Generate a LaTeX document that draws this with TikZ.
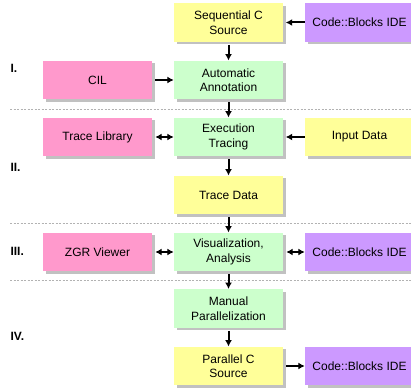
\documentclass[tikz,border=0pt]{standalone}
\usepackage{fontspec}
\setmainfont{Liberation Sans}
\usetikzlibrary{shadows,arrows.meta}
\definecolor{cyellow}{HTML}{FFFF99}
\definecolor{cgreen}{HTML}{CCFFCC}
\definecolor{cpink}{HTML}{FF99CC}
\definecolor{cpurple}{HTML}{CC99FF}
\begin{document}
\begin{tikzpicture}[x=1pt,y=-1pt,
  box/.style={minimum width=109pt,minimum height=38.5pt,inner sep=0pt,align=center,
    font=\fontsize{12}{14.5}\selectfont,
    drop shadow={shadow xshift=2.5pt,shadow yshift=-2.5pt,opacity=0.4,fill=black!60}},
  ybox/.style={box,fill=cyellow},
  gbox/.style={box,fill=cgreen},
  pbox/.style={box,fill=cpink},
  vbox/.style={box,fill=cpurple},
  arr/.style={line width=2pt,-{Latex[length=6.5pt,width=7pt]}},
  darr/.style={line width=2pt,{Latex[length=6.5pt,width=7pt]}-{Latex[length=6.5pt,width=7pt]}},
  sep/.style={gray!60,line width=0.5pt,dash pattern=on 2pt off 1.5pt},
  phase/.style={anchor=west,font=\fontsize{12}{14}\selectfont\bfseries}]
\clip (0,0) rectangle (411,390);
\fill[white] (0,0) rectangle (411,390);
% separators
\coordinate (s1a) at (10,109); \coordinate (s1b) at (411,109);
\coordinate (s2a) at (10,223); \coordinate (s2b) at (411,223);
\coordinate (s3a) at (10,280); \coordinate (s3b) at (411,280);
\draw[sep] (s1a) -- (s1b);
\draw[sep] (s2a) -- (s2b);
\draw[sep] (s3a) -- (s3b);
% nodes
\node[ybox] (seq) at (228.5,22.5) {Sequential C\\Source};
\node[vbox] (ide1) at (359.5,22.5) {Code::Blocks IDE};
\node[pbox] (cil) at (97.5,80) {CIL};
\node[gbox] (ann) at (228.5,80) {Automatic\\Annotation};
\node[pbox] (lib) at (97.5,137) {Trace Library};
\node[gbox] (exe) at (228.5,137) {Execution\\Tracing};
\node[ybox] (inp) at (359.5,137) {Input Data};
\node[ybox] (tdata) at (228.5,195) {Trace Data};
\node[pbox] (zgr) at (97.5,252) {ZGR Viewer};
\node[gbox] (vis) at (228.5,252) {Visualization,\\Analysis};
\node[vbox] (ide2) at (359.5,252) {Code::Blocks IDE};
\node[gbox] (man) at (228.5,308.5) {Manual\\Parallelization};
\node[ybox] (par) at (228.5,366) {Parallel C\\Source};
\node[vbox] (ide3) at (359.5,366) {Code::Blocks IDE};
% phase labels
\node[phase] (p1) at (7,68) {I.};
\node[phase] (p2) at (7,167) {II.};
\node[phase] (p3) at (7,251) {III.};
\node[phase] (p4) at (7,336) {IV.};
% arrows
\draw[arr,shorten <=3pt] (seq) -- (ann);
\draw[arr,shorten <=3pt] (ann) -- (exe);
\draw[arr,shorten <=3pt] (exe) -- (tdata);
\draw[arr,shorten <=3pt] (tdata) -- (vis);
\draw[arr,shorten <=3pt] (vis) -- (man);
\draw[arr,shorten <=3pt] (man) -- (par);
\draw[arr,shorten >=2.5pt] (ide1) -- (seq);
\draw[arr,shorten <=3pt] (cil) -- (ann);
\draw[darr,shorten <=3pt] (lib) -- (exe);
\draw[arr,shorten >=2.5pt] (inp) -- (exe);
\draw[darr,shorten <=3pt] (zgr) -- (vis);
\draw[darr,shorten <=3pt] (vis) -- (ide2);
\draw[arr,shorten <=3pt] (par) -- (ide3);
\end{tikzpicture}
\end{document}
